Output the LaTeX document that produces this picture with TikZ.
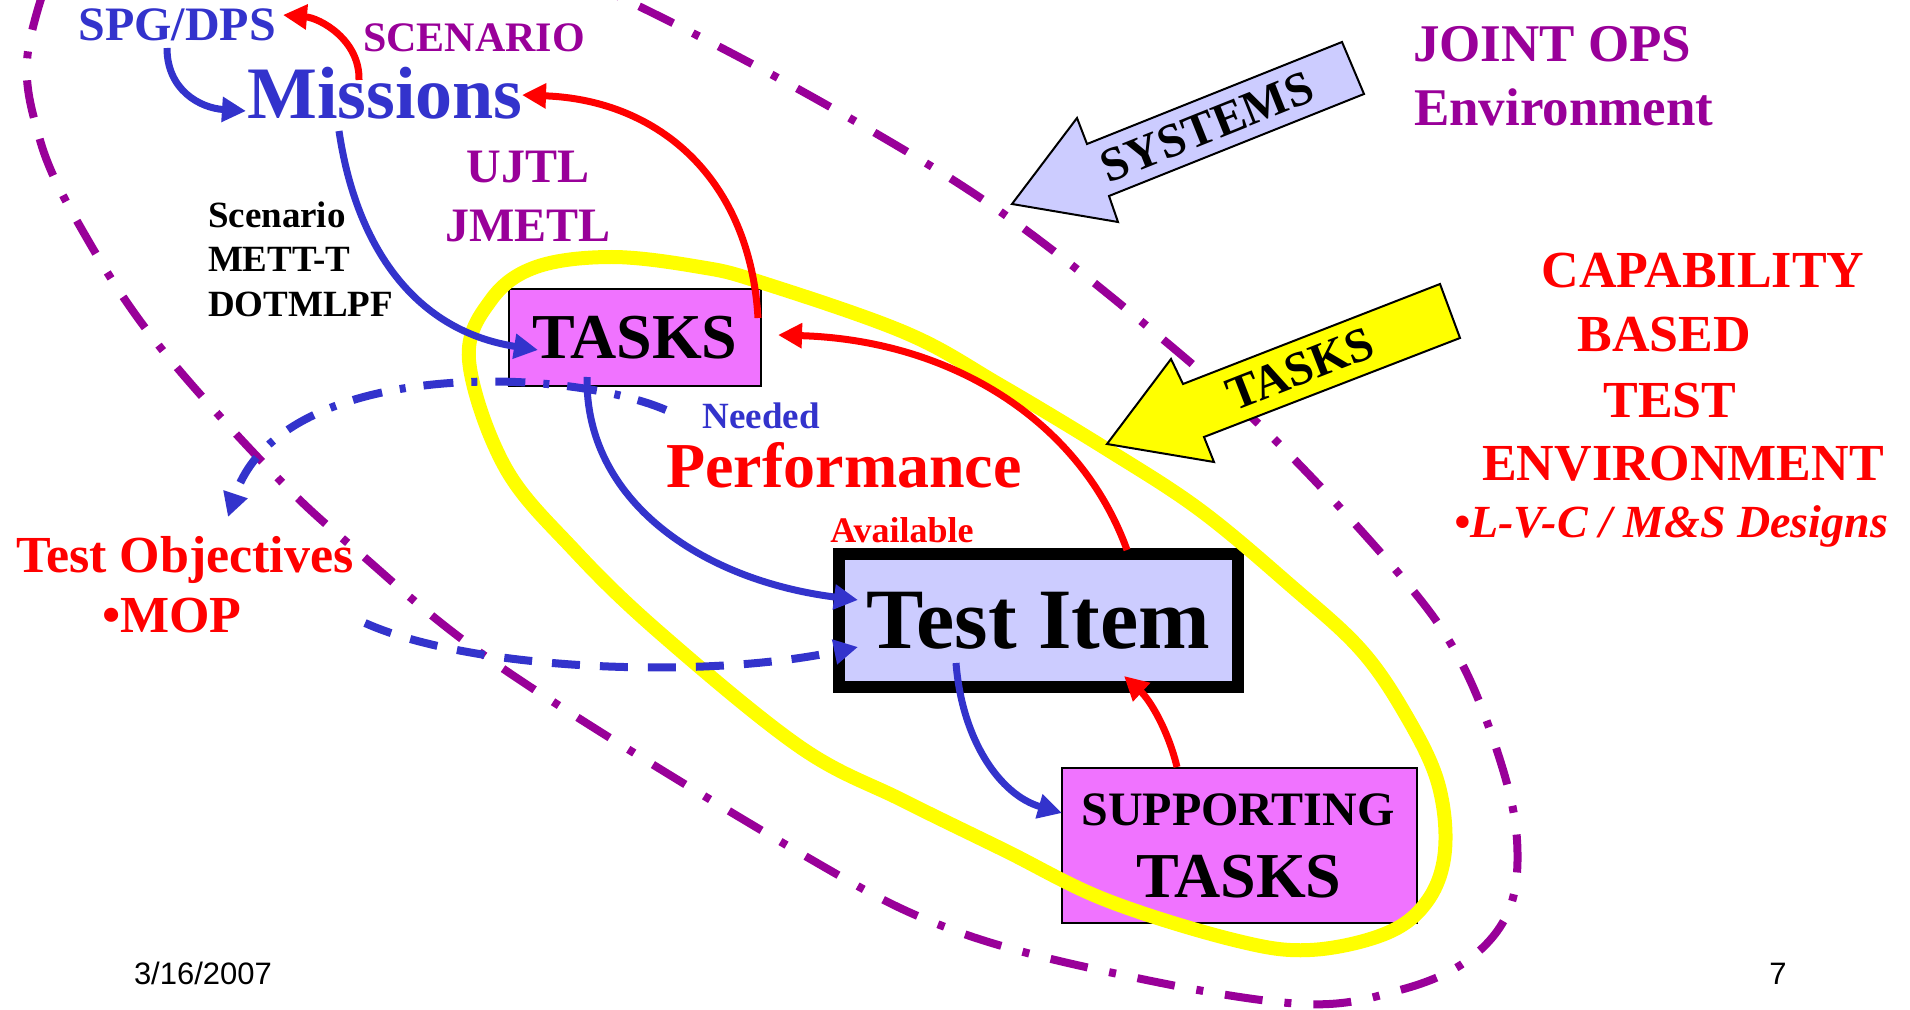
\documentclass[tikz,border=0pt]{standalone}
\usepackage{fontspec}
\setmainfont{Liberation Serif}
\newfontfamily\arialfont{Liberation Sans}
\usetikzlibrary{arrows.meta}
\definecolor{cblue}{RGB}{51,51,204}
\definecolor{cred}{RGB}{255,0,0}
\definecolor{cpurple}{RGB}{153,0,153}
\definecolor{cyellow}{RGB}{255,255,0}
\definecolor{cmag}{RGB}{240,115,255}
\definecolor{clav}{RGB}{204,204,255}
\newcommand{\fsz}[1]{\fontsize{#1pt}{#1pt}\selectfont}
\begin{document}
\begin{tikzpicture}[x=0.5pt,y=-0.5pt,
  lbl/.style={inner sep=0pt, outer sep=0pt, anchor=base},
  flow/.style={line width=3.5pt, -{Triangle[length=12pt,width=12pt]}},
  bluef/.style={flow, draw=cblue},
  redf/.style={flow, draw=cred},
  tbox/.style={draw=black, line width=1pt, fill=cmag, inner sep=0pt},
  blockarrow/.style={draw=black, line width=1pt, line join=miter},
  purp/.style={draw=cpurple, line width=4pt, dash pattern=on 19pt off 11pt on 3.5pt off 11pt},
  bdashdot/.style={draw=cblue, line width=4pt, dash pattern=on 15pt off 9pt on 3pt off 9pt, -{Triangle[length=12pt,width=12pt]}},
  bdashed/.style={draw=cblue, line width=4pt, dash pattern=on 14pt off 10pt, -{Triangle[length=12pt,width=12pt]}}
]
\useasboundingbox (0,0) rectangle (1910,1010);
\clip (0,0) rectangle (1910,1010);
\fill[white] (0,0) rectangle (1910,1010);

% boxes
\node[tbox, minimum width=126pt, minimum height=48.5pt, font=\fsz{32}\bfseries] (tasks) at (635,337.5) {TASKS};
\node[draw=black, line width=6pt, fill=clav, minimum width=199.5pt, minimum height=66.5pt, inner sep=0pt, font=\fsz{43}\bfseries] (item) at (1038.5,620.5) {Test Item};
\node[tbox, minimum width=177.5pt, minimum height=77.5pt] (sup) at (1239.5,845.5) {};
\node[lbl, font=\fsz{24}\bfseries] (supA) at (1238,825) {SUPPORTING};
\node[lbl, font=\fsz{32}\bfseries] (supB) at (1239,897) {TASKS};

% yellow ellipse
\draw[draw=cyellow, line width=7pt] plot[smooth cycle, tension=0.6] coordinates {
 (469,360) (491,300) (536,267) (612,257) (700,267) (760,282) (906,333) (1000,385)
 (1108,450) (1200,510) (1290,585) (1361,650) (1407,717) (1438,783) (1445,850)
 (1428,900) (1387,933) (1310,950) (1234,940) (1106,900) (1004,850) (902,800)
 (800,747) (660,633) (574,550) (505,467)};

% purple outer boundary
\draw[purp] plot[smooth cycle, tension=0.6] coordinates {
 (30,40) (40,140) (85,235) (156,342) (270,470) (356,550) (505,670) (800,853)
 (953,930) (1132,977) (1303,1004) (1400,990) (1468,960) (1509,910) (1517,840)
 (1500,760) (1460,660) (1400,575) (1268,433) (1136,317) (998,210) (865,127)
 (712,43) (560,-30) (400,-90) (220,-120) (90,-90)};

% block arrows
\draw[blockarrow, fill=clav] (1012,204) -- (1077,118) -- (1087,144) -- (1342,42) -- (1364,94) -- (1109,196) -- (1118,222) -- cycle;
\node[inner sep=0pt, rotate=21.8, font=\fsz{24}\bfseries] (sysT) at (1207,127) {SYSTEMS};
\draw[blockarrow, fill=cyellow] (1107,444) -- (1171,359) -- (1183,384) -- (1440,284) -- (1460,338) -- (1204,437) -- (1214,462) -- cycle;
\node[inner sep=0pt, rotate=21.3, font=\fsz{24}\bfseries] (tasksT) at (1300,369) {TASKS};

% labels
\node[lbl, text=cblue, font=\fsz{24}\bfseries] (spg) at (177,41) {SPG/DPS};
\node[lbl, text=cpurple, font=\fsz{21}\bfseries] (scen) at (474,52) {SCENARIO};
\node[lbl, text=cblue, font=\fsz{37}\bfseries] (miss) at (385,119) {Missions};
\node[lbl, text=cpurple, font=\fsz{24}\bfseries] (ujtl) at (528,183) {UJTL};
\node[lbl, text=cpurple, font=\fsz{24}\bfseries] (jmetl) at (528,242) {JMETL};
\node[lbl, anchor=base west, font=\fsz{18.5}\bfseries] (sc1) at (208,228) {Scenario};
\node[lbl, anchor=base west, font=\fsz{18.5}\bfseries] (sc2) at (208,272) {METT-T};
\node[lbl, anchor=base west, font=\fsz{18.5}\bfseries] (sc3) at (208,317) {DOTMLPF};
\node[lbl, text=cblue, font=\fsz{18.5}\bfseries] (need) at (761,429) {Needed};
\node[lbl, text=cred, font=\fsz{32}\bfseries] (perf) at (844,487) {Performance};
\node[lbl, text=cred, font=\fsz{18}\bfseries] (avail) at (902,542) {Available};
\node[lbl, text=cred, font=\fsz{26}\bfseries] (tobj) at (185,572) {Test Objectives};
\node[lbl, text=cred, font=\fsz{26}\bfseries] (mop) at (172,632) {•MOP};
\node[lbl, anchor=base west, text=cpurple, font=\fsz{26.5}\bfseries] (joint) at (1413,62) {JOINT OPS};
\node[lbl, anchor=base west, text=cpurple, font=\fsz{26.5}\bfseries] (env) at (1414,126) {Environment};
\node[lbl, text=cred, font=\fsz{26}\bfseries] (cap1) at (1703,288) {CAPABILITY};
\node[lbl, text=cred, font=\fsz{26}\bfseries] (cap2) at (1664,352) {BASED};
\node[lbl, text=cred, font=\fsz{26}\bfseries] (cap3) at (1670,417) {TEST};
\node[lbl, text=cred, font=\fsz{26}\bfseries] (cap4) at (1683,480) {ENVIRONMENT};
\node[lbl, anchor=base east, text=cred, font=\fsz{23}\bfseries\itshape] (lvc) at (1888,537) {•L-V-C / M\&S Designs};
\node[lbl, anchor=base west, font=\fsz{15.5}\arialfont] (date) at (134,984) {3/16/2007};
\node[lbl, font=\fsz{15.5}\arialfont] (page) at (1778,984) {7};

% connector end points
\coordinate (spgB) at (167,48);
\coordinate (missL) at (246,111);
\coordinate (missT) at (359,80);
\coordinate (spgR) at (283,15);
\coordinate (missB) at (339,131);
\coordinate (tasksIn) at (538,350);
\coordinate (tasksTop) at (758,318);
\coordinate (missR) at (522,95);
\coordinate (itemTop) at (1127,550);
\coordinate (tasksR) at (778,335);
\coordinate (tasksB) at (587,377);
\coordinate (itemL) at (858,600);
\coordinate (itemB) at (956,663);
\coordinate (supL) at (1062,813);
\coordinate (supTop) at (1177,767);
\coordinate (itemIn) at (1124,676);
\coordinate (needS) at (666,410);
\coordinate (tobjT) at (228,517);
\coordinate (tobjR) at (365,623);
\coordinate (itemL2) at (858,647);

% connectors
\draw[bluef] (spgB) .. controls (167,90) and (200,108) .. (missL);
\draw[redf] (missT) .. controls (360,40) and (320,18) .. (spgR);
\draw[bluef] (missB) .. controls (355,240) and (410,330) .. (tasksIn);
\draw[redf] (tasksTop) .. controls (750,180) and (660,100) .. (missR);
\draw[redf] (itemTop) .. controls (1080,420) and (950,340) .. (tasksR);
\draw[bluef] (tasksB) .. controls (585,500) and (700,580) .. (itemL);
\draw[bluef] (itemB) .. controls (962,740) and (1000,795) .. (supL);
\draw[redf] (supTop) .. controls (1168,730) and (1150,700) .. (itemIn);
\draw[bdashdot] (needS) .. controls (560,365) and (280,360) .. (tobjT);
\draw[bdashed] (tobjR) .. controls (470,670) and (700,680) .. (itemL2);
\end{tikzpicture}
\end{document}
